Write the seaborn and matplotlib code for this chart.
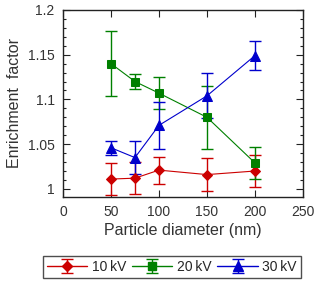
import numpy as np
import pandas as pd
import matplotlib
matplotlib.use("Agg")
import matplotlib.pyplot as plt
import seaborn as sns

# Data
diameters = [50, 75, 100, 150, 200]
ef_10kv = [1.011, 1.012, 1.021, 1.016, 1.020]
err_10kv = [0.018, 0.018, 0.015, 0.018, 0.018]
ef_20kv = [1.140, 1.120, 1.107, 1.080, 1.029]
err_20kv = [0.036, 0.0085, 0.0176, 0.035, 0.018]
ef_30kv = [1.046, 1.035, 1.071, 1.104, 1.149]
err_30kv = [0.0076, 0.018, 0.026, 0.025, 0.016]
series_labels = ["10\u2009kV", "20\u2009kV", "30\u2009kV"]

sns.set_style("ticks")
plt.rcParams['font.family'] = ['Liberation Sans', 'DejaVu Sans']

fig = plt.figure(figsize=(3.21, 2.83), dpi=100)
ax = fig.add_axes([0.196, 0.304, 0.748, 0.661])

styles = [
    ("#cc0000", "D", 5.0),
    ("#008000", "s", 5.5),
    ("#0000cc", "^", 6.5),
]
values = [ef_10kv, ef_20kv, ef_30kv]
errors = [err_10kv, err_20kv, err_30kv]

handles = []
for vals, errs, lab, (col, mk, ms) in zip(values, errors, series_labels, styles):
    df = pd.DataFrame({"d": diameters, "ef": vals})
    sns.lineplot(data=df, x="d", y="ef", ax=ax, color=col, marker=mk,
                 markersize=ms, markeredgecolor=col, linewidth=0.8,
                 legend=False, zorder=3)
    ax.errorbar(diameters, vals, yerr=errs, fmt="none", ecolor=col,
                elinewidth=1.0, capsize=4.5, capthick=1.0, zorder=2)
    h = ax.errorbar([np.nan], [np.nan], yerr=[np.nan], fmt="-" + mk, color=col,
                    markersize=ms, linewidth=1.0, elinewidth=1.0, capsize=4.5,
                    capthick=1.0, label=lab)
    handles.append(h)

ax.set_xlim(0, 250)
ax.set_ylim(0.991, 1.2)
ax.set_xticks([0, 50, 100, 150, 200, 250])
ax.set_yticks([1.0, 1.05, 1.1, 1.15, 1.2])
ax.set_yticklabels(["1", "1.05", "1.1", "1.15", "1.2"])
ax.set_yticks(np.arange(1.0, 1.2, 0.01), minor=True)
ax.tick_params(which="both", direction="in", top=True, right=True,
               colors="#222222", labelcolor="#333333", labelsize=10)
ax.tick_params(which="major", length=5, width=0.8, pad=6)
ax.tick_params(which="minor", length=2.5, width=0.8)
for sp in ax.spines.values():
    sp.set_color("#222222")
    sp.set_linewidth(1.0)

ax.set_xlabel("Particle diameter (nm)", fontsize=11.5, color="#333333", labelpad=3)
ax.set_ylabel("Enrichment  factor", fontsize=11.5, color="#333333", labelpad=4)

leg = fig.legend(handles=handles, labels=series_labels, loc="center",
                 bbox_to_anchor=(0.535, 0.057), ncol=3, frameon=True,
                 fancybox=False, edgecolor="#222222", fontsize=10,
                 handlelength=2.9, handletextpad=0.3, columnspacing=0.45,
                 borderpad=0.3, borderaxespad=0)
leg.get_frame().set_linewidth(1.0)

fig.savefig("out.png", dpi=100)
